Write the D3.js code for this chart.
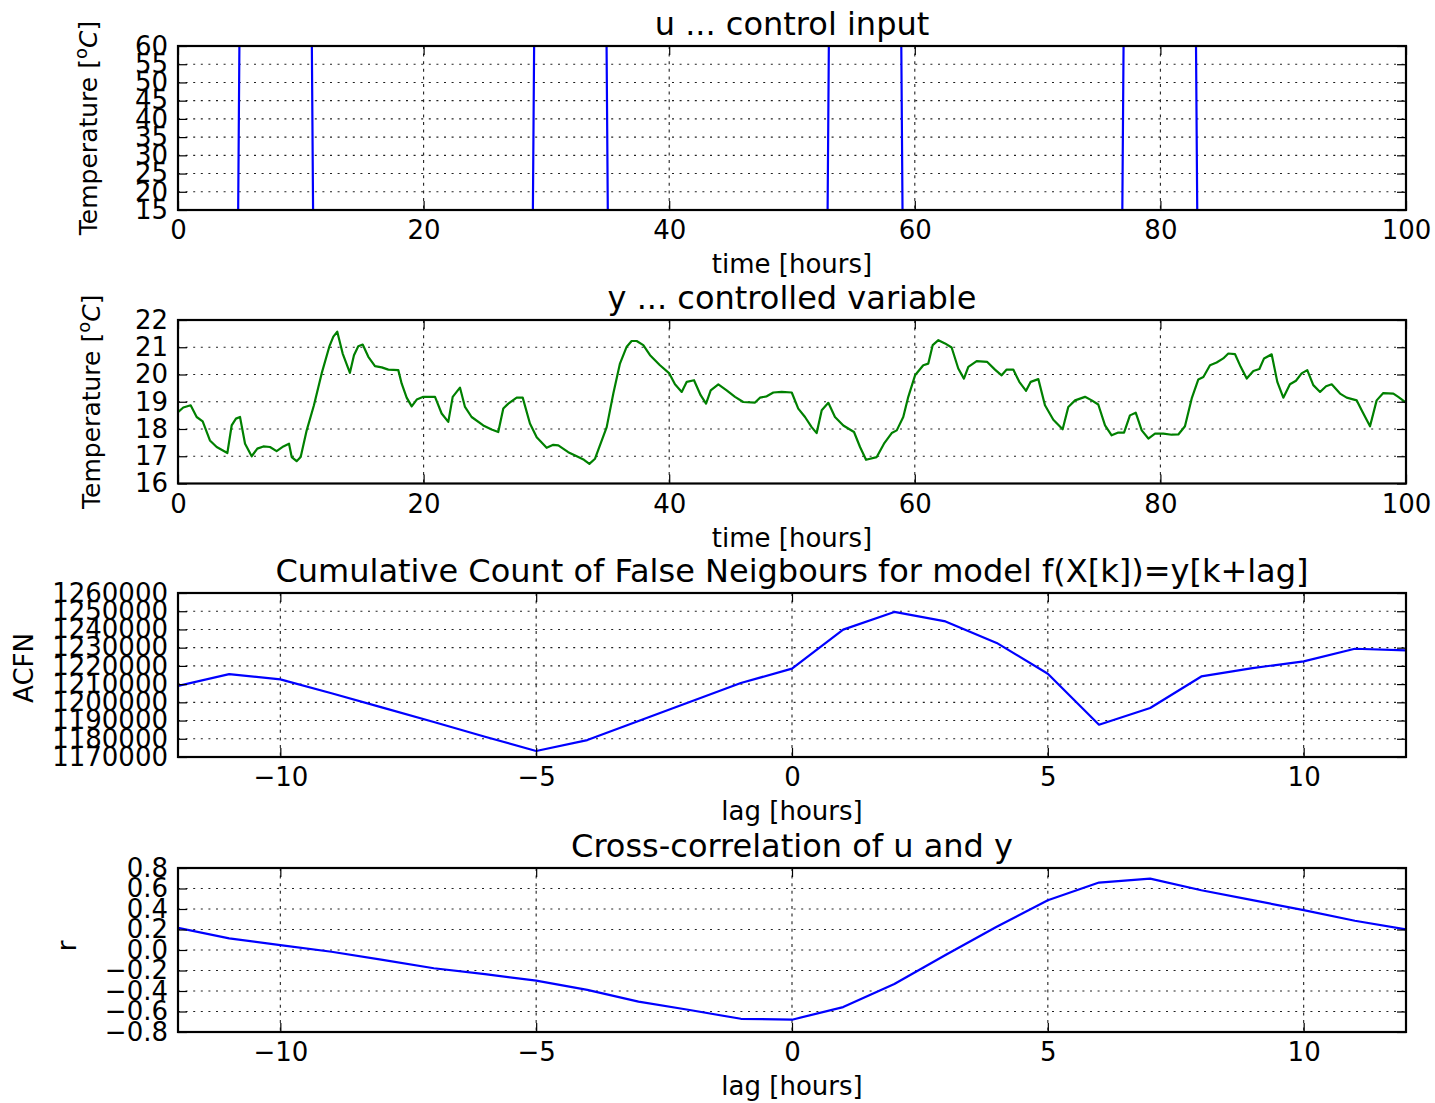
<!DOCTYPE html>
<html>
<head>
<meta charset="utf-8">
<script src="https://cdn.jsdelivr.net/npm/d3@7"></script>
<style>
  body { margin: 0; background: #fff; }
  svg text { font-family: "DejaVu Sans", sans-serif; fill: #000; }
</style>
</head>
<body>
<svg id="chart" width="1435" height="1103"></svg>
<script>
// ---- control input u (step signal, sampled every 0.1 h) ----
const uTime  = [0, 4.9, 5.0, 10.9, 11.0, 28.9, 29.0, 34.9, 35.0, 52.9, 53.0, 58.9, 59.0, 76.9, 77.0, 82.9, 83.0, 100];
const uValue = [15, 15, 60, 60, 15, 15, 60, 60, 15, 15, 60, 60, 15, 15, 60, 60, 15, 15];

// ---- controlled variable y ----
const yTime = [
  0.00, 0.43, 1.03, 1.52, 2.01, 2.60, 3.15, 4.02, 4.37, 4.72, 5.05, 5.46, 6.00, 6.46, 6.95, 7.49, 8.03, 8.58, 9.04, 9.26,
  9.66, 9.99, 10.48, 11.07, 11.70, 12.32, 12.65, 12.97, 13.41, 14.00, 14.33, 14.68, 15.04, 15.50, 16.04, 16.59, 17.13, 17.94, 18.21, 18.62,
  19.03, 19.44, 19.98, 20.93, 21.47, 22.01, 22.37, 22.96, 23.37, 23.91, 24.86, 25.54, 26.08, 26.49, 26.90, 27.58, 28.07, 28.66, 29.21, 30.02,
  30.56, 30.97, 31.78, 32.60, 33.06, 33.50, 33.96, 34.91, 35.45, 35.99, 36.54, 36.94, 37.35, 37.89, 38.44, 39.25, 40.01, 40.47, 41.02, 41.43,
  42.02, 42.56, 43.00, 43.38, 44.00, 44.68, 45.36, 46.03, 46.99, 47.39, 47.94, 48.48, 49.16, 49.98, 50.51, 51.06, 51.60, 52.01, 52.42, 52.96,
  53.50, 54.18, 55.05, 55.54, 56.03, 56.90, 57.49, 58.12, 58.53, 59.06, 59.47, 60.02, 60.69, 61.10, 61.46, 61.92, 62.46, 63.00, 63.54, 64.00,
  64.36, 65.04, 65.90, 66.53, 67.07, 67.48, 68.02, 68.51, 69.06, 69.44, 70.06, 70.60, 71.28, 72.04, 72.50, 73.05, 73.86, 74.41, 74.94, 75.49,
  76.03, 76.57, 77.04, 77.52, 77.99, 78.48, 79.02, 79.56, 80.24, 80.92, 81.46, 82.00, 82.55, 83.09, 83.50, 84.04, 84.58, 85.12, 85.53, 86.07,
  86.54, 87.03, 87.57, 88.06, 88.44, 89.06, 89.52, 90.01, 90.55, 91.04, 91.50, 91.96, 92.45, 93.00, 93.49, 93.95, 94.63, 95.17, 95.99, 96.39,
  97.07, 97.61, 98.15, 98.97, 99.37, 100.00
];
const yTemp = [
  18.62, 18.79, 18.87, 18.44, 18.28, 17.58, 17.34, 17.12, 18.13, 18.38, 18.44, 17.46, 17.00, 17.28, 17.36, 17.34, 17.19, 17.36, 17.46, 16.97,
  16.82, 16.97, 17.95, 18.87, 20.04, 21.02, 21.39, 21.57, 20.77, 20.06, 20.71, 21.04, 21.10, 20.65, 20.31, 20.26, 20.18, 20.16, 19.67, 19.15,
  18.83, 19.08, 19.18, 19.18, 18.57, 18.26, 19.18, 19.52, 18.81, 18.44, 18.13, 17.98, 17.89, 18.75, 18.93, 19.15, 19.15, 18.20, 17.70, 17.31,
  17.42, 17.40, 17.15, 16.97, 16.87, 16.72, 16.91, 18.07, 19.30, 20.40, 21.02, 21.23, 21.23, 21.08, 20.71, 20.34, 20.04, 19.64, 19.36, 19.73,
  19.79, 19.24, 18.93, 19.42, 19.64, 19.42, 19.18, 18.99, 18.97, 19.15, 19.20, 19.34, 19.36, 19.34, 18.75, 18.44, 18.07, 17.85, 18.69, 18.96,
  18.44, 18.13, 17.89, 17.34, 16.87, 16.97, 17.46, 17.85, 17.95, 18.44, 19.18, 19.97, 20.34, 20.40, 21.08, 21.26, 21.14, 20.99, 20.22, 19.85,
  20.28, 20.49, 20.46, 20.18, 19.97, 20.18, 20.18, 19.73, 19.40, 19.73, 19.83, 18.87, 18.34, 17.99, 18.81, 19.05, 19.18, 19.05, 18.90, 18.13,
  17.77, 17.87, 17.87, 18.50, 18.60, 17.95, 17.65, 17.83, 17.83, 17.79, 17.80, 18.10, 19.12, 19.82, 19.91, 20.34, 20.44, 20.59, 20.77, 20.75,
  20.28, 19.85, 20.13, 20.20, 20.59, 20.74, 19.73, 19.15, 19.64, 19.77, 20.04, 20.16, 19.61, 19.36, 19.57, 19.64, 19.30, 19.15, 19.05, 18.69,
  18.10, 19.05, 19.32, 19.30, 19.18, 18.97
];

// ---- lag analysis ----
const lags  = [-12, -11, -10, -9, -8, -7, -6, -5, -4, -3, -2, -1, 0, 1, 2, 3, 4, 5, 6, 7, 8, 9, 10, 11, 12];
const acfn  = [1209000, 1215500, 1212600, 1205000, 1197100, 1189200, 1181100, 1173300, 1179300, 1189800, 1200200, 1210600, 1218500,
               1239900, 1249600, 1244400, 1232600, 1215700, 1187700, 1196900, 1214200, 1218800, 1222500, 1229400, 1228500];
const xcorr = [0.217, 0.113, 0.048, -0.017, -0.097, -0.178, -0.236, -0.298, -0.389, -0.503, -0.585, -0.671, -0.680,
               -0.557, -0.331, -0.049, 0.226, 0.486, 0.658, 0.697, 0.583, 0.486, 0.389, 0.285, 0.201];

// ---- tick values ----
const timeTicks = [0, 20, 40, 60, 80, 100];
const lagTicks  = [-10, -5, 0, 5, 10];
const uTicks    = [15, 20, 25, 30, 35, 40, 45, 50, 55, 60];
const yTicks    = [16, 17, 18, 19, 20, 21, 22];
const acfnTicks = [1170000, 1180000, 1190000, 1200000, 1210000, 1220000, 1230000, 1240000, 1250000, 1260000];
const rTicks    = [-0.8, -0.6, -0.4, -0.2, 0.0, 0.2, 0.4, 0.6, 0.8];

// ---- layout ----
const svg = d3.select("#chart");
svg.append("rect").attr("width", 1435).attr("height", 1103).attr("fill", "#fff");

const LEFT = 178, RIGHT = 1406;
const TICK = 9, FS = 26, TITLE_FS = 32;

function tempLabel(sel) {
  sel.attr("font-size", 25);
  sel.append("tspan").text("Temperature [");
  sel.append("tspan").attr("font-size", 25 * 0.72).attr("dy", -25 * 0.42).text("o");
  sel.append("tspan").attr("font-style", "italic").attr("dy", 25 * 0.42).text("C");
  sel.append("tspan").text("]");
}

function drawPanel(p) {
  const x = d3.scaleLinear().domain(p.xDomain).range([LEFT, RIGHT]);
  const y = d3.scaleLinear().domain(p.yDomain).range([p.bottom, p.top]);
  const g = svg.append("g");

  const clipId = "clip-" + p.id;
  svg.append("clipPath").attr("id", clipId)
    .append("rect").attr("x", LEFT).attr("y", p.top)
    .attr("width", RIGHT - LEFT).attr("height", p.bottom - p.top);

  // dotted grid
  g.append("g").selectAll("line").data(p.yTicks).join("line")
    .attr("x1", LEFT).attr("x2", RIGHT)
    .attr("y1", d => y(d)).attr("y2", d => y(d))
    .attr("stroke", "#222").attr("stroke-width", 1.1).attr("stroke-dasharray", "2,5.6");
  g.append("g").selectAll("line").data(p.xTicks).join("line")
    .attr("y1", p.top).attr("y2", p.bottom)
    .attr("x1", d => x(d)).attr("x2", d => x(d))
    .attr("stroke", "#222").attr("stroke-width", 1.1).attr("stroke-dasharray", "3,4.6");

  // data line
  const line = d3.line().x(i => x(p.xs[i])).y(i => y(p.ys[i]));
  g.append("path")
    .datum(d3.range(p.xs.length))
    .attr("clip-path", `url(#${clipId})`)
    .attr("d", line)
    .attr("fill", "none")
    .attr("stroke", p.color)
    .attr("stroke-width", 2.2)
    .attr("stroke-linejoin", "round");

  const styleAxis = a => {
    a.attr("font-size", FS).attr("font-family", "DejaVu Sans");
    a.select(".domain").remove();
    a.selectAll(".tick line").attr("stroke", "#000").attr("stroke-width", 1.2);
    a.selectAll(".tick text").attr("fill", "#000");
  };

  // bottom axis with labels, other sides ticks only (pointing inward)
  g.append("g").attr("transform", `translate(0,${p.bottom})`)
    .call(d3.axisBottom(x).tickValues(p.xTicks).tickSizeInner(-TICK).tickSizeOuter(0)
      .tickPadding(11).tickFormat(p.xFmt))
    .call(styleAxis);
  g.append("g").attr("transform", `translate(0,${p.top})`)
    .call(d3.axisTop(x).tickValues(p.xTicks).tickSizeInner(-TICK).tickSizeOuter(0).tickFormat(""))
    .call(styleAxis);
  g.append("g").attr("transform", `translate(${LEFT},0)`)
    .call(d3.axisLeft(y).tickValues(p.yTicks).tickSizeInner(-TICK).tickSizeOuter(0)
      .tickPadding(10).tickFormat(p.yFmt))
    .call(styleAxis);
  g.append("g").attr("transform", `translate(${RIGHT},0)`)
    .call(d3.axisRight(y).tickValues(p.yTicks).tickSizeInner(-TICK).tickSizeOuter(0).tickFormat(""))
    .call(styleAxis);

  // frame
  g.append("rect")
    .attr("x", LEFT).attr("y", p.top)
    .attr("width", RIGHT - LEFT).attr("height", p.bottom - p.top)
    .attr("fill", "none").attr("stroke", "#000").attr("stroke-width", 2.2);

  // title and axis labels
  const cx = (LEFT + RIGHT) / 2;
  g.append("text").attr("x", cx).attr("y", p.top - 11)
    .attr("text-anchor", "middle").attr("font-size", TITLE_FS).text(p.title);
  g.append("text").attr("x", cx).attr("y", p.bottom + 63)
    .attr("text-anchor", "middle").attr("font-size", FS).text(p.xLabel);
  const cy = p.yLabelY !== undefined ? p.yLabelY : (p.top + p.bottom) / 2;
  const yl = g.append("text")
    .attr("transform", `translate(${p.yLabelX},${cy}) rotate(-90)`)
    .attr("text-anchor", "middle").attr("font-size", FS);
  if (typeof p.yLabel === "function") p.yLabel(yl); else yl.text(p.yLabel);
}

const intFmt = d3.format("d");

drawPanel({
  id: "u", top: 46, bottom: 210,
  xDomain: [0, 100], yDomain: [15, 60],
  xTicks: timeTicks, yTicks: uTicks, xFmt: intFmt, yFmt: intFmt,
  xs: uTime, ys: uValue, color: "#0000ff",
  title: "u ... control input", xLabel: "time [hours]",
  yLabel: tempLabel, yLabelX: 97
});

drawPanel({
  id: "y", top: 320, bottom: 483.5,
  xDomain: [0, 100], yDomain: [16, 22],
  xTicks: timeTicks, yTicks: yTicks, xFmt: intFmt, yFmt: intFmt,
  xs: yTime, ys: yTemp, color: "#008000",
  title: "y ... controlled variable", xLabel: "time [hours]",
  yLabel: tempLabel, yLabelX: 100
});

drawPanel({
  id: "acfn", top: 593, bottom: 757,
  xDomain: [-12, 12], yDomain: [1170000, 1260000],
  xTicks: lagTicks, yTicks: acfnTicks, xFmt: intFmt, yFmt: intFmt,
  xs: lags, ys: acfn, color: "#0000ff",
  title: "Cumulative Count of False Neigbours for model f(X[k])=y[k+lag]", xLabel: "lag [hours]",
  yLabel: "ACFN", yLabelX: 33, yLabelY: 668
});

drawPanel({
  id: "r", top: 868, bottom: 1032,
  xDomain: [-12, 12], yDomain: [-0.8, 0.8],
  xTicks: lagTicks, yTicks: rTicks, xFmt: intFmt, yFmt: d3.format(".1f"),
  xs: lags, ys: xcorr, color: "#0000ff",
  title: "Cross-correlation of u and y", xLabel: "lag [hours]",
  yLabel: "r", yLabelX: 76, yLabelY: 946
});
</script>
</body>
</html>
